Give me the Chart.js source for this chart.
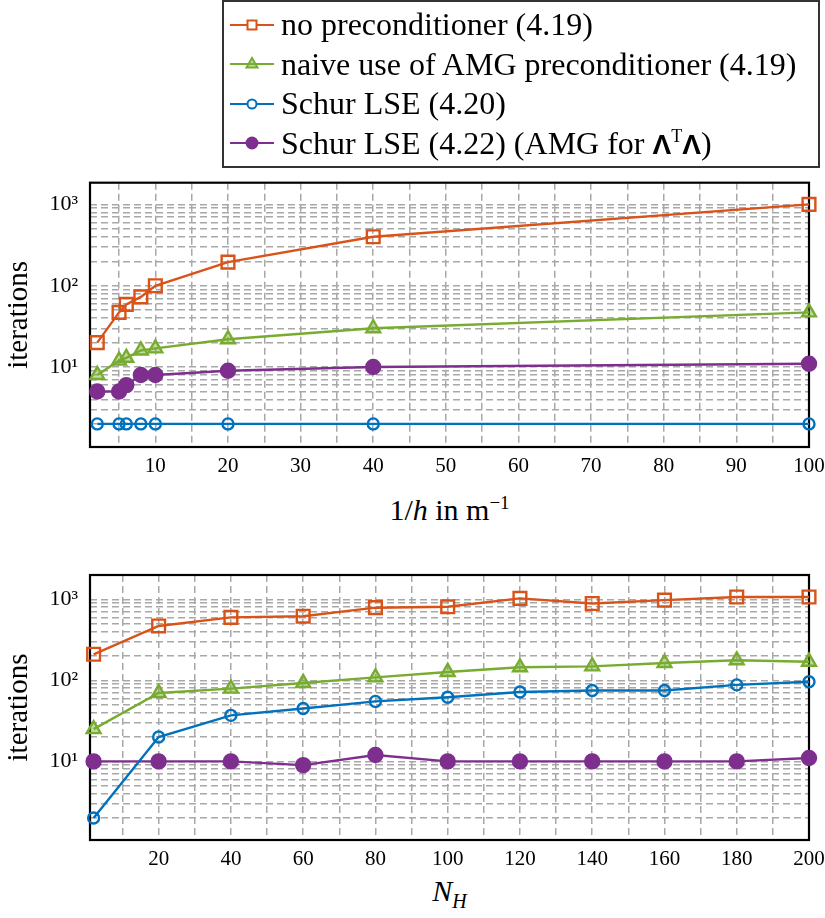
<!DOCTYPE html>
<html>
<head>
<meta charset="utf-8">
<script src="https://cdn.jsdelivr.net/npm/chart.js@4/dist/chart.umd.min.js"></script>
<style>
  html, body { margin: 0; padding: 0; background: #fff; }
  body { width: 825px; height: 918px; position: relative; overflow: hidden;
         font-family: 'Liberation Serif', serif; color: #000; }
  canvas.plot { position: absolute; left: 0; }
  #legend { position: absolute; left: 222px; top: 0; width: 598px; height: 168px;
            border: 2px solid #333; box-sizing: border-box; padding-top: 3px; }
  .row { height: 39.5px; display: flex; align-items: center; font-size: 32px; white-space: nowrap; }
  .row canvas { margin-left: 6px; margin-right: 7px; }
  .bold { font-family: 'Liberation Sans', sans-serif; font-weight: bold; font-size: 28px; }
  .xt { position: absolute; left: 90px; width: 719px; text-align: center; font-size: 30px; line-height: 30px; }
</style>
</head>
<body>
<div id="legend"></div>
<canvas id="top" class="plot" width="825" height="310" style="top:170px"></canvas>
<div class="xt" style="top:488px">1/<i>h</i> in m<sup style="font-size:19px">−1</sup></div>
<canvas id="bottom" class="plot" width="825" height="310" style="top:560px"></canvas>
<div class="xt" style="top:876px"><i>N<sub style="font-size:20px">H</sub></i></div>

<script>
// top panel: solver iterations vs. mesh refinement 1/h
const invH = [2, 5, 6, 8, 10, 20, 40, 100];
const topNoPrec = [20, 47, 59, 73, 100, 195, 400, 1000];
const topNaiveAmg = [8, 12, 13, 16, 17, 22, 30, 47];
const topSchur420 = [2, 2, 2, 2, 2, 2, 2, 2];
const topSchur422 = [5, 5, 6, 8, 8, 9, 10, 11];

// bottom panel: solver iterations vs. N_H
const nH = [2, 20, 40, 60, 80, 100, 120, 140, 160, 180, 200];
const botNoPrec = [210, 470, 600, 620, 790, 810, 1030, 890, 980, 1070, 1070];
const botNaiveAmg = [25, 70, 79, 93, 109, 127, 145, 149, 164, 177, 170];
const botSchur420 = [2, 20, 37, 45, 55, 62, 72, 75, 75, 88, 96];
const botSchur422 = [10, 10, 10, 9, 12, 10, 10, 10, 10, 10, 11];

// axis ticks
const topXLabels = [10, 20, 30, 40, 50, 60, 70, 80, 90, 100];
const botXLabels = [20, 40, 60, 80, 100, 120, 140, 160, 180, 200];
const yMajor = [10, 100, 1000];
const yMajorLabels = ['10¹', '10²', '10³'];

const seriesLabels = [
  'no preconditioner (4.19)',
  'naive use of AMG preconditioner (4.19)',
  'Schur LSE (4.20)',
  'Schur LSE (4.22) (AMG for <span class="bold">Λ</span><sup style="font-size:18px">T</sup><span class="bold">Λ</span>)',
];

// marker look per series (MATLAB-ish default colours, as in the figure)
const STYLES = [
  { color: '#D95319', shape: 'rect', radius: 9, fill: 'rgba(0,0,0,0)' },
  { color: '#77AC30', shape: 'triangle', radius: 8, fill: 'rgba(119,172,48,0.45)' },
  { color: '#0072BD', shape: 'circle', radius: 5.5, fill: 'rgba(0,0,0,0)' },
  { color: '#7E2F8E', shape: 'circle', radius: 7, fill: '#7E2F8E' },
];

const GRID = '#a8a8a8';
Chart.defaults.font.family = "'Liberation Serif', serif";
Chart.defaults.color = '#000';

// dashed grid at every 1..9 x 10^k inside the range
function logGrid(min, max) {
  const out = [];
  for (const dec of [1, 10, 100, 1000]) {
    for (let m = 1; m <= 9; m++) {
      const v = m * dec;
      if (v >= min && v <= max) out.push({ value: v });
    }
  }
  return out;
}

// black axis box drawn under the markers
const framePlugin = {
  id: 'frame',
  beforeDatasetsDraw(chart) {
    const { ctx, chartArea: a } = chart;
    ctx.save();
    ctx.strokeStyle = '#000';
    ctx.lineWidth = 2.2;
    ctx.strokeRect(a.left, a.top, a.right - a.left, a.bottom - a.top);
    ctx.restore();
  },
};

function buildPanel(canvasId, xs, ys, cfg) {
  const datasets = ys.map((vals, i) => {
    const s = STYLES[i];
    return {
      label: seriesLabels[i],
      data: xs.map((x, j) => ({ x, y: vals[j] })),
      borderColor: s.color,
      backgroundColor: s.color,
      borderWidth: 2.4,
      tension: 0,
      pointStyle: s.shape,
      pointRadius: s.radius,
      pointHoverRadius: s.radius,
      pointBorderWidth: 2.4,
      pointBorderColor: s.color,
      pointBackgroundColor: s.fill,
      clip: false,
    };
  });

  return new Chart(document.getElementById(canvasId), {
    type: 'line',
    data: { datasets },
    options: {
      responsive: false,
      animation: false,
      devicePixelRatio: 1,
      layout: { autoPadding: false, padding: { top: cfg.padTop, right: 16, left: 0, bottom: 0 } },
      plugins: { legend: { display: false }, tooltip: { enabled: false } },
      scales: {
        x: {
          type: 'linear',
          bounds: 'data',
          min: cfg.xMin,
          max: cfg.xMax,
          afterBuildTicks: (s) => { s.ticks = cfg.xGrid.map((v) => ({ value: v })); },
          afterFit: (s) => { s.height = cfg.xAxisHeight; s.paddingLeft = 0; s.paddingRight = 0; },
          ticks: {
            autoSkip: false,
            maxRotation: 0,
            padding: 7,
            font: { size: 21 },
            callback: (v) => (cfg.xLabels.includes(v) ? String(v) : ''),
          },
          grid: { color: GRID, lineWidth: 1.5, drawTicks: false },
          border: { display: false, dash: [7, 4] },
        },
        y: {
          type: 'logarithmic',
          bounds: 'data',
          min: cfg.yMin,
          max: cfg.yMax,
          afterBuildTicks: (s) => { s.ticks = logGrid(cfg.yMin, cfg.yMax); },
          afterFit: (s) => { s.width = 90; s.paddingTop = 0; s.paddingBottom = 0; },
          ticks: {
            autoSkip: false,
            padding: 12,
            font: { size: 22 },
            callback: (v) => {
              const k = yMajor.indexOf(v);
              return k >= 0 ? yMajorLabels[k] : '';
            },
          },
          grid: { color: GRID, lineWidth: 1.5, drawTicks: false },
          border: { display: false, dash: [7, 4] },
          title: { display: true, text: 'iterations', font: { size: 29 }, padding: { top: 2, bottom: 0 } },
        },
      },
    },
    plugins: [framePlugin],
  });
}

buildPanel('top', invH, [topNoPrec, topNaiveAmg, topSchur420, topSchur422], {
  padTop: 12.7, xAxisHeight: 33,
  xMin: 1, xMax: 100,
  xGrid: [5, 10, 15, 20, 25, 30, 35, 40, 45, 50, 55, 60, 65, 70, 75, 80, 85, 90, 95, 100],
  xLabels: topXLabels,
  yMin: 1.04, yMax: 1850,
});

buildPanel('bottom', nH, [botNoPrec, botNaiveAmg, botSchur420, botSchur422], {
  padTop: 15, xAxisHeight: 30,
  xMin: 1, xMax: 200,
  xGrid: [10, 20, 30, 40, 50, 60, 70, 80, 90, 100, 110, 120, 130, 140, 150, 160, 170, 180, 190, 200],
  xLabels: botXLabels,
  yMin: 1.07, yMax: 2000,
});

// legend box: line sample with marker, then the label
function drawSymbol(cv, s) {
  const c = cv.getContext('2d');
  const y = cv.height / 2, mx = cv.width / 2;
  const solid = s.fill === '#7E2F8E';
  c.strokeStyle = s.color;
  c.lineWidth = 2;
  c.beginPath(); c.moveTo(0, y); c.lineTo(cv.width, y); c.stroke();
  c.fillStyle = s.shape === 'triangle' ? s.fill : (solid ? s.fill : '#fff');
  c.beginPath();
  if (s.shape === 'rect') {
    c.rect(mx - 4.5, y - 4.5, 9, 9);
  } else if (s.shape === 'triangle') {
    c.moveTo(mx, y - 6); c.lineTo(mx + 5.5, y + 3.5); c.lineTo(mx - 5.5, y + 3.5); c.closePath();
  } else {
    c.arc(mx, y, solid ? 5.5 : 4.5, 0, Math.PI * 2);
  }
  c.fill();
  c.stroke();
}

const legend = document.getElementById('legend');
seriesLabels.forEach((lab, i) => {
  const row = document.createElement('div');
  row.className = 'row';
  const cv = document.createElement('canvas');
  cv.width = 44; cv.height = 20;
  drawSymbol(cv, STYLES[i]);
  const span = document.createElement('span');
  span.innerHTML = lab;
  row.appendChild(cv);
  row.appendChild(span);
  legend.appendChild(row);
});
</script>
</body>
</html>
